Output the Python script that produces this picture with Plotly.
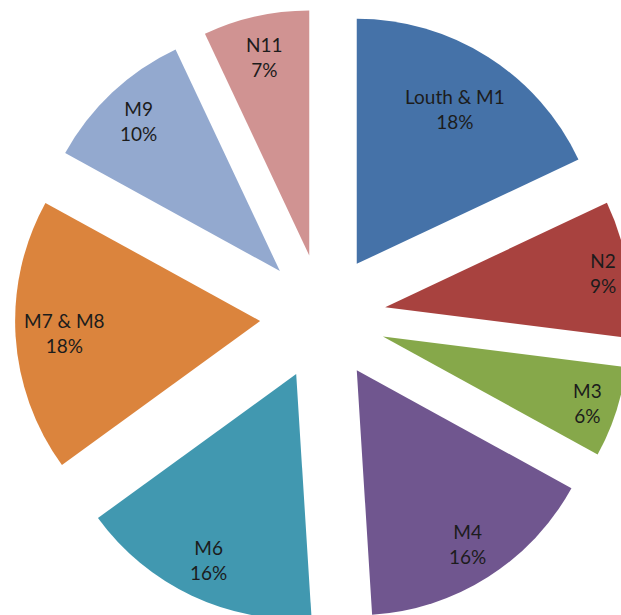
import math
import plotly.graph_objects as go

# Share of each region (percent), clockwise from 12 o'clock
regions = ["Louth & M1", "N2", "M3", "M4", "M6", "M7 & M8", "M9", "N11"]
shares = [18, 9, 6, 16, 16, 18, 10, 7]

colors = ["#4572A8", "#A8423F", "#86A84A", "#70568F",
          "#4198B0", "#DB843D", "#93A9CF", "#D09392"]

PULL = 0.257
# label distance from each slice's apex, as a fraction of the radius
label_r = [0.75, 0.90, 0.88, 0.84, 0.84, 0.80, 0.84, 0.83]

# Pie box in pixels; the figure is a bit larger than the view so
# the outer slices run off the right and bottom edges.
L, T, SIZE = 15, 9, 616
W, H = L + SIZE + 1, T + SIZE + 1

fig = go.Figure(go.Pie(
    labels=regions,
    values=shares,
    sort=False,
    direction="clockwise",
    rotation=0,
    pull=[PULL] * len(shares),
    marker=dict(colors=colors, line=dict(width=0)),
    textinfo="none",
    hoverinfo="label+percent",
    showlegend=False,
    domain=dict(x=[0, 1], y=[0, 1]),
))

# Labels placed along each slice's bisector
total = sum(shares)
r_px = (SIZE / 2) / (1 + PULL)
annotations = []
cum = 0
for name, v, lr in zip(regions, shares, label_r):
    mid = (cum + v / 2) / total * 2 * math.pi
    cum += v
    dist = r_px * (PULL + lr)
    dx = dist * math.sin(mid)
    dy = -dist * math.cos(mid)
    annotations.append(dict(
        x=0.5 + dx / SIZE, y=0.5 - dy / SIZE,
        xref="paper", yref="paper",
        xanchor="center", yanchor="middle",
        text=f"{name}<br>{v}%",
        showarrow=False,
        font=dict(family="Lato", size=19, color="#1c1c1c"),
        align="center",
    ))

fig.update_layout(
    width=W, height=H,
    margin=dict(l=L, t=T, r=1, b=1, pad=0),
    paper_bgcolor="white",
    plot_bgcolor="white",
    annotations=annotations,
)

fig.write_html(
    "out.html",
    post_script="document.body.style.margin='0';document.body.style.overflow='hidden';",
)
